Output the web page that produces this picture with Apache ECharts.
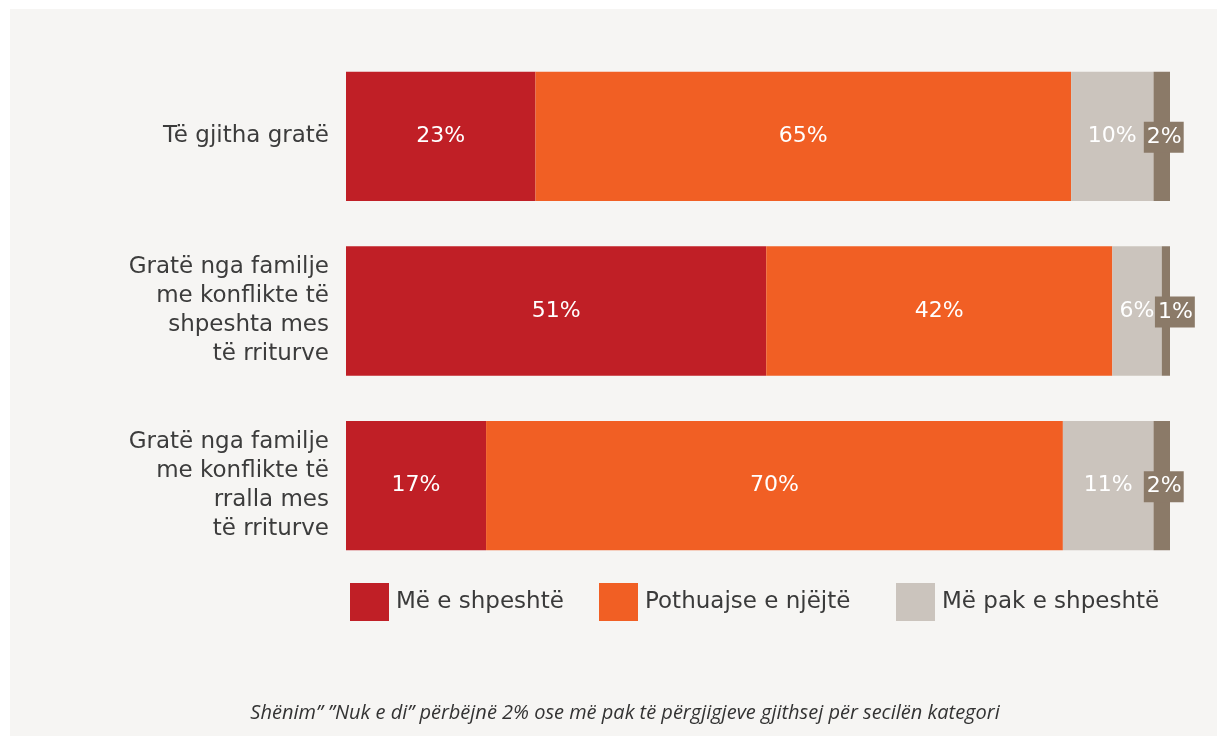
<!DOCTYPE html>
<html>
<head>
<meta charset="utf-8">
<script src="https://cdn.jsdelivr.net/npm/echarts@6/dist/echarts.min.js"></script>
<style>
html,body{margin:0;padding:0;background:#ffffff;}
#chart{width:1217px;height:736px;}
</style>
</head>
<body>
<div id="chart"></div>
<script>
var categories = ['Të gjitha gratë', 'Gratë nga familje\nme konflikte të\nshpeshta mes\ntë rriturve', 'Gratë nga familje\nme konflikte të\nrralla mes\ntë rriturve'];
var seriesNames = ['Më e shpeshtë', 'Pothuajse e njëjtë', 'Më pak e shpeshtë', 'Nuk e di'];
var moreOften = [23, 51, 17];
var aboutSame = [65, 42, 70];
var lessOften = [10, 6, 11];
var dontKnow = [2, 1, 2];
var footnote = 'Shënim” ”Nuk e di” përbëjnë 2% ose më pak të përgjigjeve gjithsej për secilën kategori';

var colors = ['#c01f26', '#f15f24', '#cbc4bd', '#8b7a68'];
var font = 'DejaVu Sans';
var values = [moreOften, aboutSame, lessOften, dontKnow];
var smallOffsets = [[2, 1], [9, 1], [2, 1]];

var series = values.map(function (vals, si) {
  return {
    name: seriesNames[si],
    type: 'bar',
    stack: 'total',
    barCategoryGap: '26%',
    itemStyle: { color: colors[si] },
    label: si < 3 ? {
      show: true, position: 'inside', color: '#ffffff',
      fontFamily: font, fontSize: 22,
      formatter: '{c}%'
    } : {
      show: true, position: 'inside', color: '#ffffff',
      fontFamily: font, fontSize: 22,
      backgroundColor: colors[3], padding: [5, 2, 4, 3],
      formatter: '{c}%'
    },
    data: vals.map(function (v, i) {
      if (si === 3) return { value: v, label: { offset: smallOffsets[i] } };
      return v;
    })
  };
});

var legendLefts = [345, 594, 891];
var legends = [0, 1, 2].map(function (i) {
  return {
    data: [seriesNames[i]],
    left: legendLefts[i], top: 578,
    itemWidth: 39, itemHeight: 38, itemGap: 0,
    icon: 'rect',
    selectedMode: false,
    textStyle: { fontFamily: font, fontSize: 23, color: '#3a3a3a', padding: [0, 0, 0, 2] }
  };
});

var chart = echarts.init(document.getElementById('chart'));
chart.setOption({
  backgroundColor: '#ffffff',
  animation: false,
  graphic: [{
    type: 'rect', z: -10, silent: true,
    shape: { x: 10, y: 9, width: 1207, height: 727 },
    style: { fill: '#f6f5f3' }
  }],
  title: {
    text: footnote,
    left: 620, top: 698, textAlign: 'center',
    textStyle: { fontFamily: 'Open Sans', fontStyle: 'italic', fontWeight: 'normal', fontSize: 20, color: '#333333' }
  },
  legend: legends,
  grid: { left: 346, right: 47, top: 49, bottom: 163 },
  xAxis: {
    type: 'value', min: 0, max: 100,
    show: false
  },
  yAxis: {
    type: 'category', data: categories, inverse: true,
    axisLine: { show: false }, axisTick: { show: false },
    axisLabel: {
      fontFamily: font, fontSize: 23, color: '#3c3c3c',
      lineHeight: 29, margin: 17, align: 'right'
    }
  },
  series: series
});
</script>
</body>
</html>
